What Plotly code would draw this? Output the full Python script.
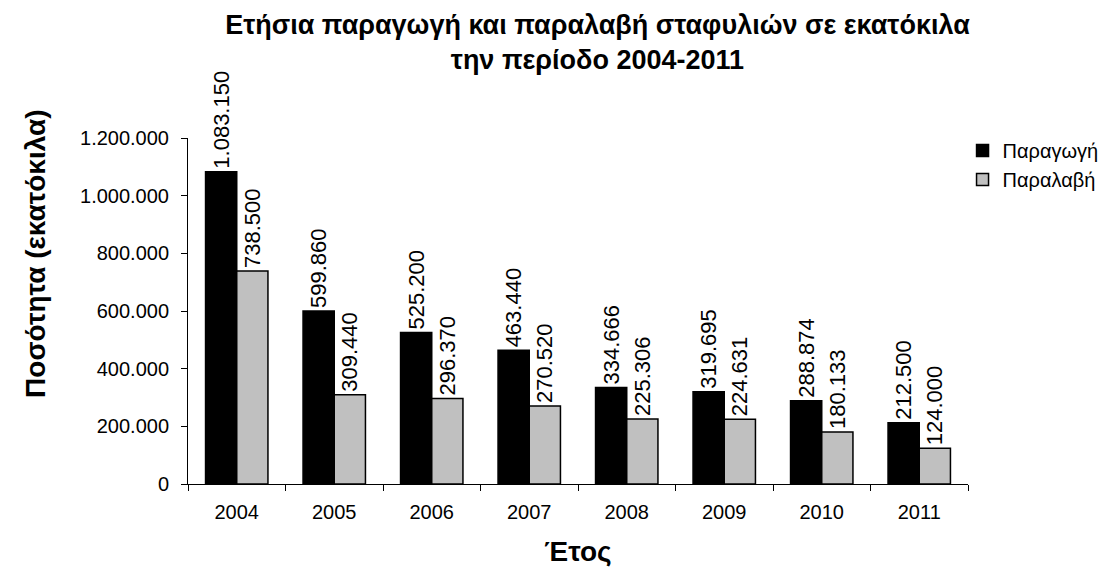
import plotly.graph_objects as go

years = ['2004', '2005', '2006', '2007', '2008', '2009', '2010', '2011']
paragogi = [1083150, 599860, 525200, 463440, 334666, 319695, 288874, 212500]
paralavi = [738500, 309440, 296370, 270520, 225306, 224631, 180133, 124000]

FONT = 'Liberation Sans, Arial, sans-serif'

def bar(y, name, color):
  return go.Bar(x=years, y=y, name=name, marker=dict(color=color, line=dict(color='black', width=1.5)),
                texttemplate='%{y:,d}', textposition='outside', textangle=-90, constraintext='none',
                cliponaxis=False, textfont=dict(size=22, color='black', family=FONT))

fig = go.Figure([bar(paragogi, 'Παραγωγή', 'black'), bar(paralavi, 'Παραλαβή', '#C0C0C0')])

fig.update_layout(
  width=1108, height=568, separators=',.',
  paper_bgcolor='white', plot_bgcolor='white',
  font=dict(family=FONT, size=20, color='black'),
  margin=dict(l=180, r=114, t=130, b=92),
  barmode='group', bargap=0.36, bargroupgap=0,
  title=dict(text='<b>Ετήσια παραγωγή και παραλαβή σταφυλιών σε εκατόκιλα<br>την περίοδο 2004-2011</b>',
             x=0.532, xanchor='center', y=0.955, yanchor='top', font=dict(size=27)),
  legend=dict(x=0.993, xanchor='left', y=1.02, yanchor='top', font=dict(size=20),
              itemwidth=30, tracegroupgap=12, bgcolor='rgba(0,0,0,0)'),
  showlegend=True,
)
# y title as an annotation: in the original it sits higher than the plot centre
fig.add_annotation(text='<b>Ποσότητα (εκατόκιλα)</b>', textangle=-90, xref='paper', yref='paper',
                   x=0, y=0.665, xanchor='center', yanchor='middle', xshift=-152, showarrow=False,
                   font=dict(size=28))
fig.update_xaxes(showline=True, linecolor='black', linewidth=1, ticks='outside', tickson='boundaries',
                 ticklen=6, tickcolor='black', showgrid=False, ticklabelstandoff=10,
                 title=dict(text='<b>Έτος</b>', font=dict(size=28), standoff=19))
fig.update_yaxes(range=[0, 1200000], dtick=200000, tickformat=',d', showline=True, linecolor='black',
                 linewidth=1, ticks='outside', ticklen=6, tickcolor='black', showgrid=False, zeroline=False,
                 ticklabelstandoff=8)

fig.write_html('out.html')
